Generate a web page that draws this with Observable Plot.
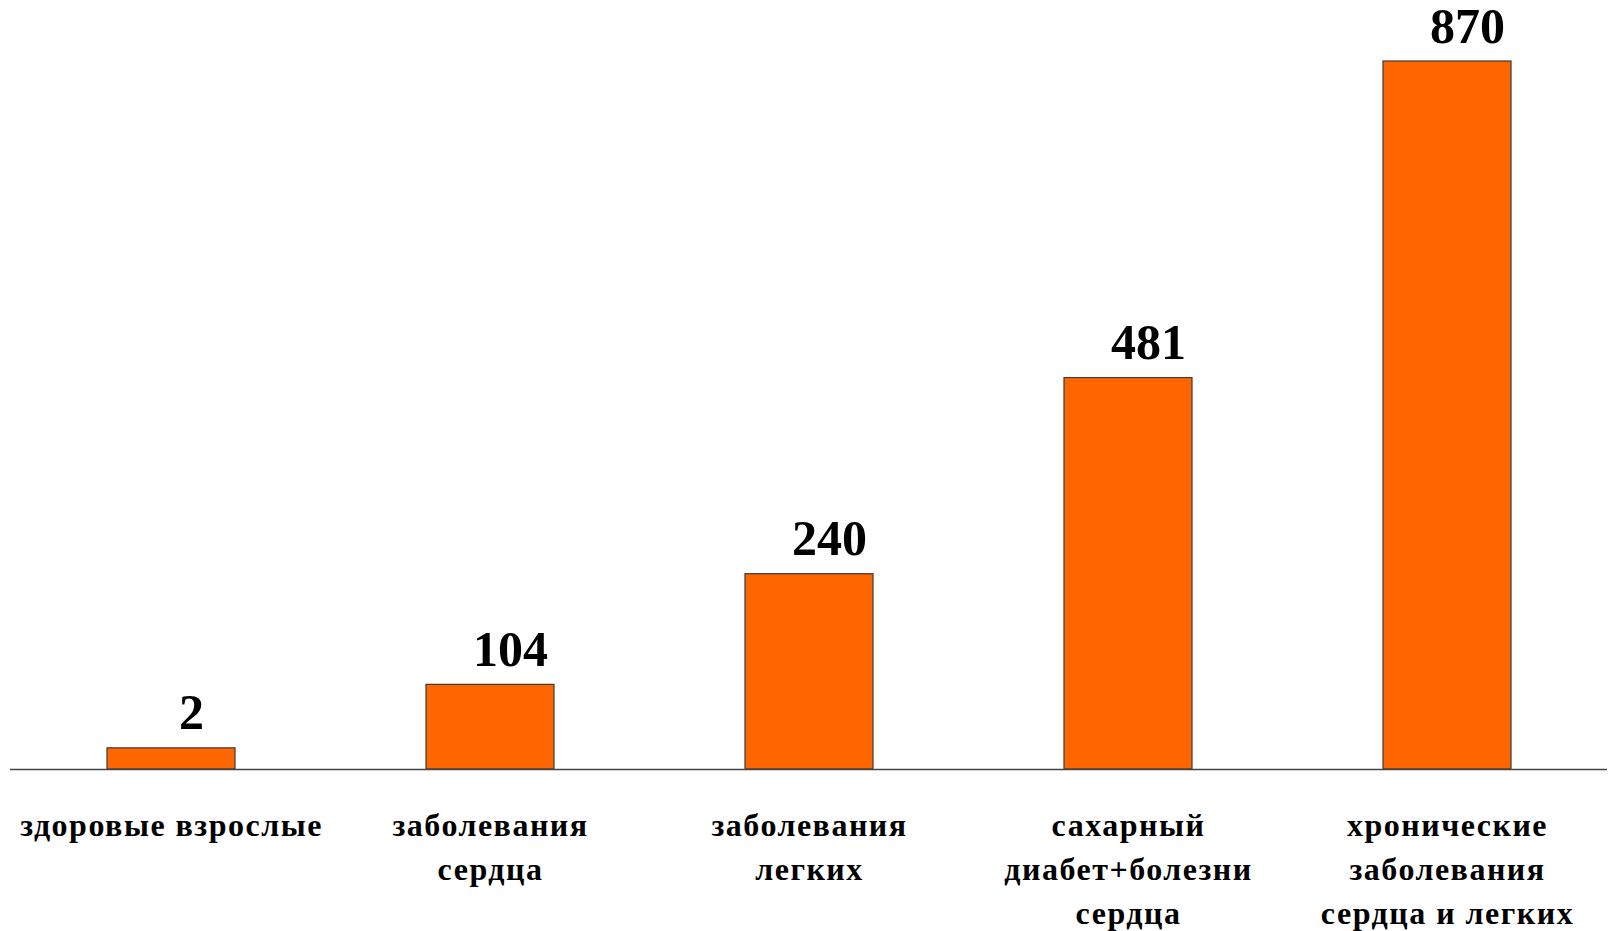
<!DOCTYPE html>
<html>
<head>
<meta charset="utf-8">
<script src="https://cdn.jsdelivr.net/npm/d3@7"></script>
<script src="https://cdn.jsdelivr.net/npm/@observablehq/plot@0.6"></script>
<style>
  html, body { margin: 0; padding: 0; background: #fff; }
  #chart svg { display: block; }
  #chart svg, #chart svg text { font-family: "Liberation Serif", "Times New Roman", serif !important; }
  #chart g[aria-label="x-axis tick label"] text { font-weight: bold; letter-spacing: 1.5px; }
</style>
</head>
<body>
<div id="chart"></div>
<script>
// Categories (x axis tick labels, multi-line as in the original)
const categories = [
  "здоровые взрослые",
  "заболевания\nсердца",
  "заболевания\nлегких",
  "сахарный\nдиабет+болезни\nсердца",
  "хронические\nзаболевания\nсердца и легких"
];
// Printed value labels
const values = [2, 104, 240, 481, 870];
// Bar heights as drawn in the original (the "2" bar is drawn taller than its value)
const barHeights = [26, 104, 240, 481, 870];

const data = categories.map((c, i) => ({category: c, value: values[i], bar: barHeights[i]}));

const chart = Plot.plot({
  width: 1608,
  height: 931,
  marginTop: 61,
  marginBottom: 162,
  marginLeft: 10,
  marginRight: 1,
  style: {background: "#fff"},
  x: {domain: categories, paddingInner: 0.6, paddingOuter: 0.3, label: null},
  y: {domain: [0, 870], axis: null},
  marks: [
    Plot.barY(data, {x: "category", y: "bar", fill: "#FF6600", stroke: "#3a3a3a", strokeWidth: 1.2}),
    Plot.ruleY([0], {stroke: "#444", strokeWidth: 1.5}),
    Plot.text(data, {
      x: "category", y: "bar", text: d => String(d.value),
      lineAnchor: "bottom", dy: -19, dx: 20,
      fontSize: 50, fontWeight: "bold", fill: "#000"
    }),
    Plot.axisX({
      tickSize: 0, tickPadding: 35, fontSize: 32, fontWeight: "bold",
      lineHeight: 1.38, fill: "#000", label: null
    })
  ]
});
document.getElementById("chart").appendChild(chart);
</script>
</body>
</html>
